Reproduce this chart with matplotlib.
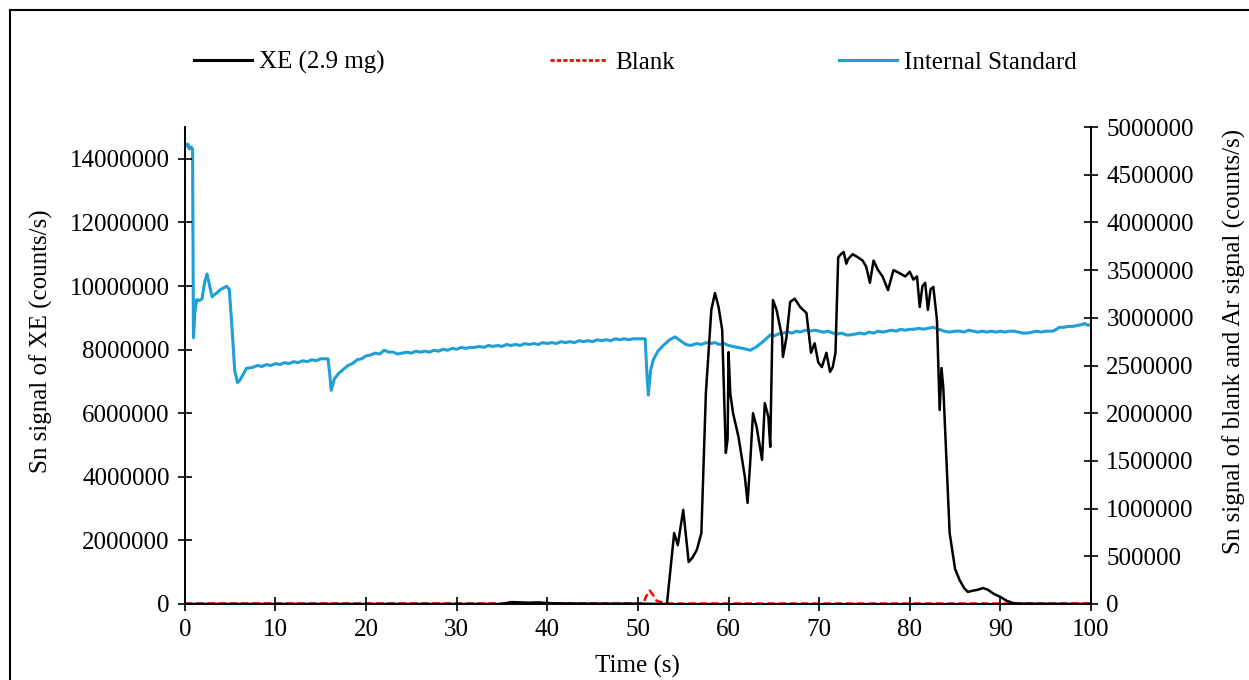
import matplotlib
matplotlib.use("Agg")
import matplotlib.pyplot as plt
from matplotlib.lines import Line2D

plt.rcParams["font.family"] = ["Liberation Serif", "DejaVu Serif"]

# XE (2.9 mg) Sn signal, left axis (counts/s, in millions)
xe_t = [0, 35, 35.5, 36, 37, 38, 39, 40, 41, 45, 50, 53.0, 53.2, 54.0, 54.4, 55.0,
        55.6, 56.0, 56.5, 57.0, 57.5, 58.1, 58.5, 58.9, 59.3, 59.5, 59.7, 59.9, 60.0,
        60.2, 60.5, 61.1, 61.8, 62.1, 62.4, 62.7, 63.1, 63.7, 64.0, 64.4, 64.6, 64.9,
        65.3, 65.9, 66.0, 66.4, 66.8, 67.3, 67.9, 68.6, 69.1, 69.5, 69.9, 70.3, 70.8,
        71.2, 71.5, 71.8, 72.1, 72.4, 72.7, 73.0, 73.2, 73.7, 74.3, 74.8, 75.2, 75.6,
        76.0, 76.5, 77.0, 77.6, 78.2, 78.9, 79.5, 80.0, 80.4, 80.8, 81.1, 81.4, 81.7,
        82.0, 82.3, 82.6, 83.0, 83.3, 83.5, 83.7, 84.4, 85.0, 85.5, 86.0, 86.4, 87.0,
        87.4, 88.1, 88.6, 89.2, 90.0, 90.7, 91.4, 92, 100]
xe_v = [0, 0, 0.03, 0.06, 0.05, 0.04, 0.05, 0.03, 0.02, 0.01, 0.01, 0.0, 0.0, 2.23, 1.85, 2.96,
        1.32, 1.45, 1.70, 2.23, 6.64, 9.25, 9.78, 9.34, 8.62, 6.64, 4.75, 5.2, 7.92,
        6.6, 6.0, 5.25, 4.0, 3.18, 4.5, 6.0, 5.57, 4.53, 6.32, 5.88, 4.94, 9.56,
        9.25, 8.40, 7.77, 8.4, 9.5, 9.6, 9.34, 9.15, 7.9, 8.2, 7.6, 7.45, 7.9,
        7.3, 7.45, 7.9, 10.9, 11.0, 11.07, 10.7, 10.85, 11.0, 10.9, 10.8, 10.6, 10.1,
        10.8, 10.5, 10.3, 9.87, 10.5, 10.4, 10.3, 10.45, 10.2, 10.3, 9.34, 10.0, 10.1,
        9.25, 9.9, 9.97, 8.93, 6.1, 7.42, 6.8, 2.23, 1.1, 0.75, 0.5, 0.38, 0.42,
        0.44, 0.5, 0.45, 0.33, 0.22, 0.10, 0.03, 0.01, 0]

# Blank Sn signal, right axis (counts/s, in millions)
blank_t = [0, 50.6, 50.9, 51.3, 51.7, 52.1, 52.6, 53.2, 100]
blank_v = [0.005, 0.005, 0.08, 0.14, 0.09, 0.03, 0.02, 0.005, 0.005]

# Internal standard (Ar) signal, right axis (counts/s, in millions)
is_t = [0.0, 0.2, 0.35, 0.5, 0.7, 0.85, 0.95, 1.1, 1.3, 1.6, 1.9, 2.2, 2.45, 2.7, 3.0,
        3.5, 4.0, 4.6, 4.9, 5.2, 5.5, 5.8, 6.1, 6.8, 7.5, 8, 8.5, 9, 9.5, 10, 10.5, 11,
        11.5, 12, 12.5, 13, 13.5, 14, 14.5, 15, 15.8, 16.0, 16.15, 16.5, 17, 17.5, 18,
        18.5, 19, 19.5, 20, 20.5, 21, 21.5, 22, 22.5, 23, 23.5, 24, 24.5, 25, 25.5, 26,
        26.5, 27, 27.5, 28, 28.5, 29, 29.5, 30, 30.5, 31, 31.5, 32, 32.5, 33, 33.5, 34,
        34.5, 35, 35.5, 36, 36.5, 37, 37.5, 38, 38.5, 39, 39.5, 40, 40.5, 41, 41.5, 42,
        42.5, 43, 43.5, 44, 44.5, 45, 45.5, 46, 46.5, 47, 47.5, 48, 48.5, 49, 49.5, 50,
        50.8, 51.0, 51.15, 51.4, 51.7, 52.2, 52.8, 53.5, 54.1, 54.7, 55.3, 55.8, 56.5,
        57.0, 57.5, 58.0, 58.5, 59.0, 59.5, 60.0, 60.5, 61.0, 61.5, 62.0, 62.4, 63.0,
        63.8, 64.6, 65.0, 65.5, 66.0, 66.5, 67.0, 67.5, 67.9, 68.5, 69.0, 69.5, 70.0,
        70.5, 71.0, 71.5, 72.0, 72.5, 73.0, 73.4, 74.0, 74.5, 75.0, 75.5, 76.0, 76.5,
        77.0, 77.5, 78.0, 78.5, 79.0, 79.5, 80.0, 80.5, 81.0, 81.5, 82.0, 82.6, 83.2,
        83.8, 84.4, 85.0, 85.5, 86.0, 86.5, 87.0, 87.5, 88.0, 88.5, 89.0, 89.5, 90.0,
        90.5, 91.0, 91.5, 92.0, 92.5, 93.0, 93.5, 94.0, 94.5, 95.0, 95.8, 96.2, 96.5,
        97.0, 97.5, 98.0, 98.5, 99.0, 99.3, 99.7, 100]
is_v = [4.83, 4.80, 4.82, 4.77, 4.79, 4.77, 2.79, 3.05, 3.19, 3.18, 3.20, 3.38, 3.46, 3.35, 3.22,
        3.26, 3.30, 3.33, 3.30, 2.90, 2.45, 2.32, 2.35, 2.47, 2.48, 2.50, 2.49, 2.51, 2.50, 2.52, 2.51, 2.53,
        2.52, 2.54, 2.53, 2.55, 2.54, 2.56, 2.55, 2.57, 2.57, 2.40, 2.24, 2.36, 2.42, 2.46, 2.50,
        2.52, 2.56, 2.57, 2.60, 2.61, 2.63, 2.62, 2.66, 2.64, 2.64, 2.62, 2.63, 2.64, 2.63, 2.65, 2.64,
        2.65, 2.64, 2.66, 2.65, 2.67, 2.66, 2.68, 2.67, 2.69, 2.68, 2.69, 2.69, 2.70, 2.69, 2.71, 2.70,
        2.71, 2.70, 2.72, 2.71, 2.72, 2.71, 2.73, 2.72, 2.73, 2.72, 2.74, 2.73, 2.74, 2.73, 2.75, 2.74,
        2.75, 2.74, 2.76, 2.75, 2.76, 2.75, 2.77, 2.76, 2.77, 2.76, 2.78, 2.77, 2.78, 2.77, 2.78, 2.78,
        2.78, 2.40, 2.19, 2.45, 2.56, 2.65, 2.71, 2.77, 2.80, 2.76, 2.72, 2.71, 2.73,
        2.72, 2.74, 2.73, 2.74, 2.72, 2.73, 2.71, 2.70, 2.69, 2.68, 2.67, 2.66, 2.69,
        2.75, 2.82, 2.81, 2.83, 2.84, 2.85, 2.84, 2.86, 2.85, 2.87, 2.86, 2.87, 2.86,
        2.85, 2.86, 2.84, 2.83, 2.84, 2.82, 2.82, 2.83, 2.84, 2.83, 2.85, 2.84, 2.86,
        2.85, 2.86, 2.87, 2.86, 2.88, 2.87, 2.88, 2.88, 2.89, 2.88, 2.89, 2.90, 2.88,
        2.86, 2.85, 2.86, 2.86, 2.85, 2.87, 2.86, 2.85, 2.86, 2.85, 2.86, 2.85, 2.86,
        2.85, 2.86, 2.86, 2.85, 2.84, 2.84, 2.85, 2.86, 2.85, 2.86, 2.86, 2.88, 2.90,
        2.90, 2.91, 2.91, 2.92, 2.93, 2.94, 2.92, 2.93]

left_ticks = [0, 2, 4, 6, 8, 10, 12, 14]
right_ticks = [0, 0.5, 1.0, 1.5, 2.0, 2.5, 3.0, 3.5, 4.0, 4.5, 5.0]
x_ticks = [0, 10, 20, 30, 40, 50, 60, 70, 80, 90, 100]

FS = 18
M = 1e6

fig = plt.figure(figsize=(12.49, 6.8), dpi=100)
ax = fig.add_axes([0.148, 0.1118, 0.7255, 0.7014])
ax2 = ax.twinx()

ax.plot(xe_t, [v * M for v in xe_v], color="black", lw=1.8, zorder=3)
ax2.plot(is_t, [v * M for v in is_v], color="#1f9fd6", lw=2.2, zorder=2)
ax2.plot(blank_t, [v * M for v in blank_v], color="red", lw=1.8,
         linestyle=(0, (3, 1.5)), zorder=4)

ax.set_zorder(ax2.get_zorder() + 1)
ax.patch.set_visible(False)

ax.set_xlim(0, 100)
ax.set_ylim(0, 15 * M)
ax2.set_ylim(0, 5 * M)
ax.set_xticks(x_ticks)
ax.set_yticks([v * M for v in left_ticks])
ax2.set_yticks([v * M for v in right_ticks])
ax.set_yticklabels([f"{int(v * M)}" for v in left_ticks])
ax2.set_yticklabels([f"{int(v * M)}" for v in right_ticks])

for a in (ax, ax2):
    a.spines["top"].set_visible(False)
    a.tick_params(direction="inout", length=10, width=1.2, labelsize=FS, pad=6)
    for s in a.spines.values():
        s.set_linewidth(1.2)

ax.set_xlabel("Time (s)", fontsize=FS, labelpad=10)
ax.set_ylabel("Sn signal of XE (counts/s)", fontsize=FS)
ax2.set_ylabel("Sn signal of blank and Ar signal (counts/s)", fontsize=FS)
ax.yaxis.set_label_coords(-0.145, 0.55)
ax2.yaxis.set_label_coords(1.145, 0.55)

handles = [Line2D([], [], color="black", lw=2.2),
           Line2D([], [], color="red", lw=2.0, linestyle=(0, (1.5, 0.8))),
           Line2D([], [], color="#1f9fd6", lw=2.2)]
fig.legend(handles, ["XE (2.9 mg)", "Blank", "Internal Standard"],
           loc="center", bbox_to_anchor=(0.509, 0.908), ncol=3, frameon=False,
           fontsize=FS, handlelength=2.3, handletextpad=0.3, columnspacing=6.6)

# outer frame
fig.add_artist(Line2D([0.008, 1.0], [0.985, 0.985], transform=fig.transFigure,
                      color="black", lw=1.5))
fig.add_artist(Line2D([0.008, 0.008], [0.0, 0.985], transform=fig.transFigure,
                      color="black", lw=1.5))

fig.savefig("out.png", dpi=100)
